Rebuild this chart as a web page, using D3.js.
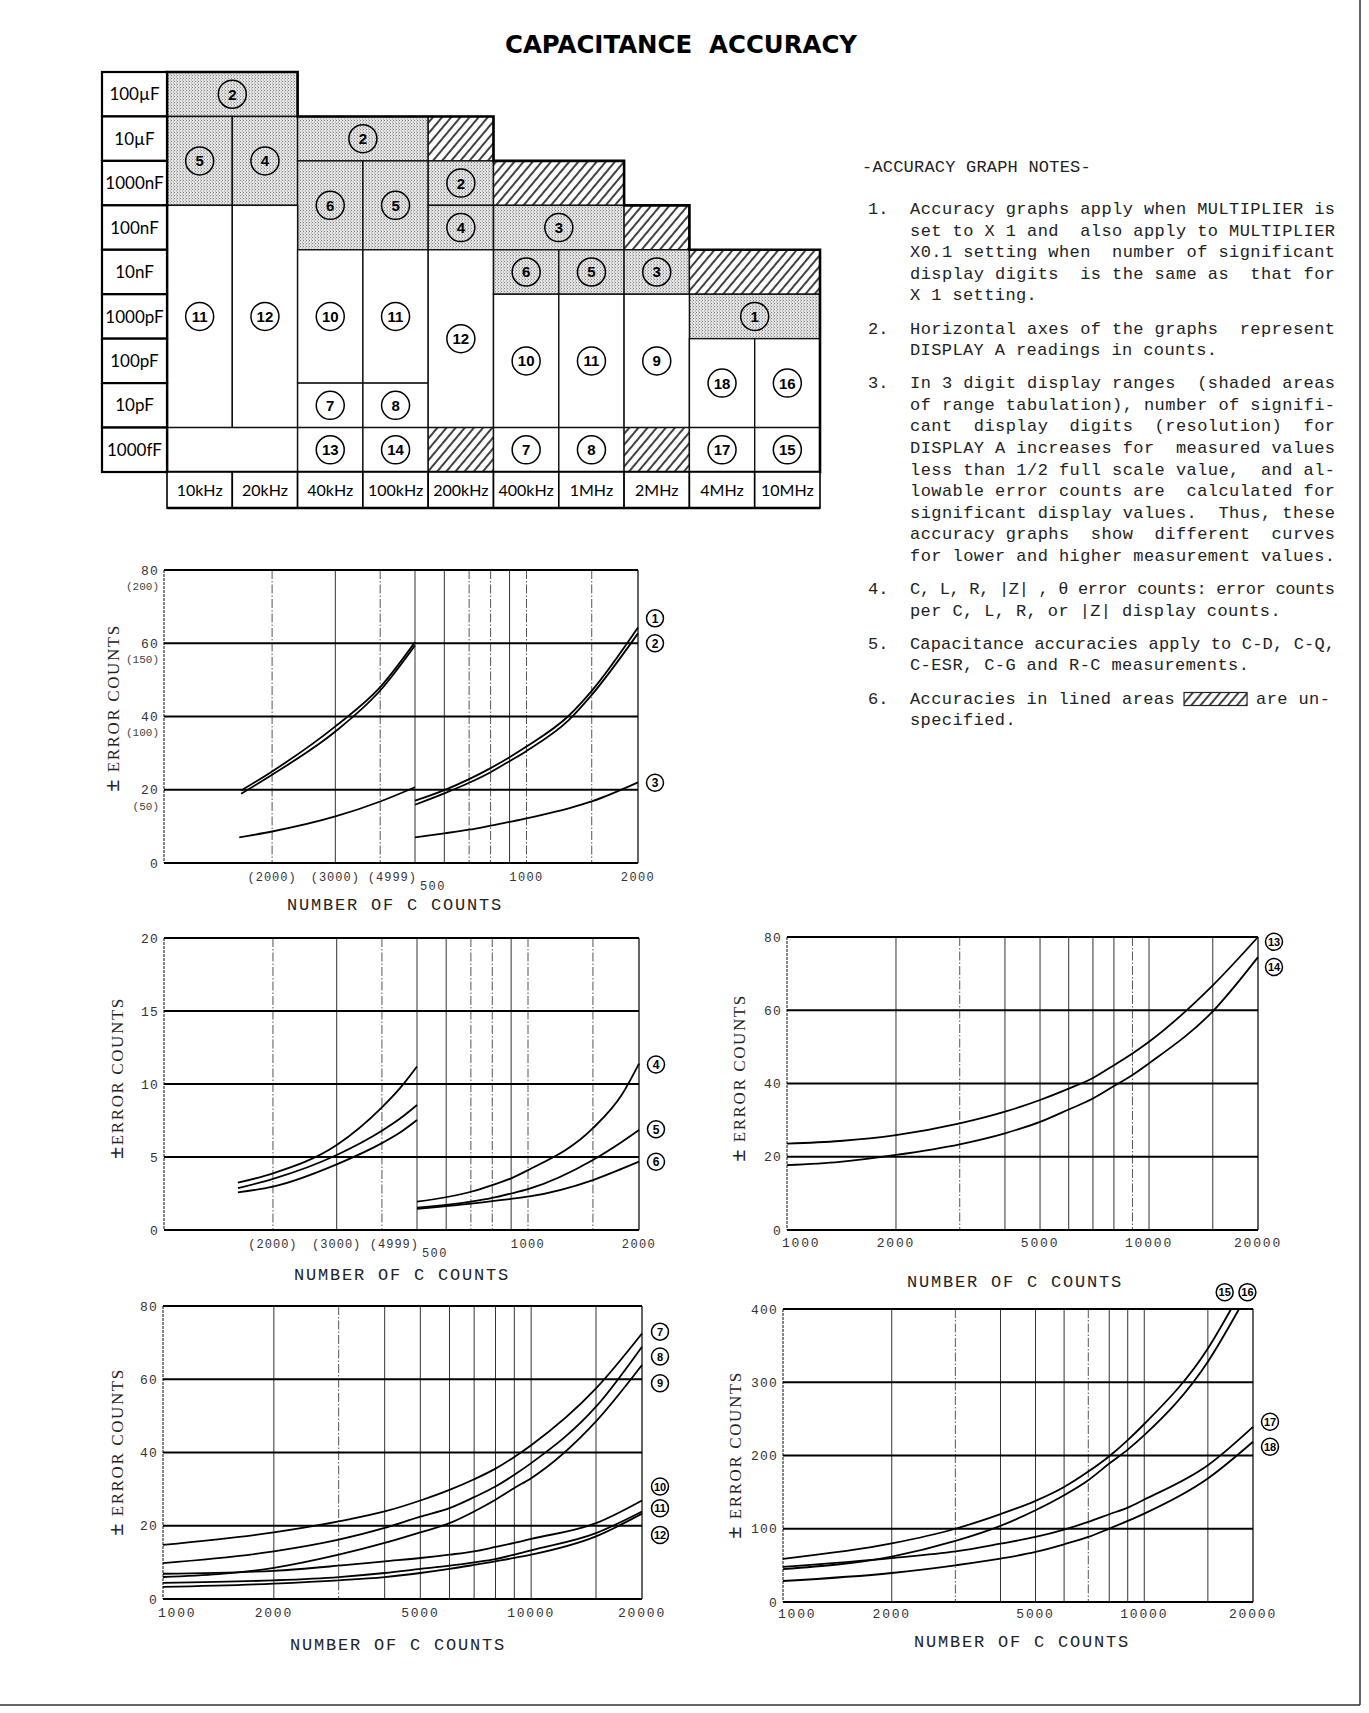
<!DOCTYPE html>
<html>
<head>
<meta charset="utf-8">
<title>Capacitance accuracy</title>
<script src="https://cdn.jsdelivr.net/npm/d3@7"></script>
<style>
  body { margin: 0; background: #fff; }
  svg { display: block; }
  text { white-space: pre; }
</style>
</head>
<body>
<script>
// ---------- range tabulation ----------
const freqs = ["10kHz", "20kHz", "40kHz", "100kHz", "200kHz", "400kHz", "1MHz", "2MHz", "4MHz", "10MHz"];
const ranges = ["100µF", "10µF", "1000nF", "100nF", "10nF", "1000pF", "100pF", "10pF", "1000fF"];
// [first freq, last freq, first range, last range, graph number, s = 3 digit (shaded), h = unspecified (lined), w = plain]
const cells = [
  [0, 1, 0, 0, "2", "s"], [0, 0, 1, 2, "5", "s"], [1, 1, 1, 2, "4", "s"],
  [2, 3, 1, 1, "2", "s"], [4, 4, 1, 1, "", "h"], [2, 2, 2, 3, "6", "s"],
  [3, 3, 2, 3, "5", "s"], [4, 4, 2, 2, "2", "s"], [4, 4, 3, 3, "4", "s"],
  [5, 6, 2, 2, "", "h"], [5, 6, 3, 3, "3", "s"], [7, 7, 3, 3, "", "h"],
  [0, 0, 3, 7, "11", "w"], [1, 1, 3, 7, "12", "w"], [0, 1, 8, 8, "", "w"],
  [2, 2, 4, 6, "10", "w"], [3, 3, 4, 6, "11", "w"], [2, 2, 7, 7, "7", "w"],
  [3, 3, 7, 7, "8", "w"], [2, 2, 8, 8, "13", "w"], [3, 3, 8, 8, "14", "w"],
  [4, 4, 4, 7, "12", "w"], [4, 4, 8, 8, "", "h"], [5, 5, 4, 4, "6", "s"],
  [6, 6, 4, 4, "5", "s"], [7, 7, 4, 4, "3", "s"], [8, 9, 4, 4, "", "h"],
  [8, 9, 5, 5, "1", "s"], [5, 5, 5, 7, "10", "w"], [6, 6, 5, 7, "11", "w"],
  [7, 7, 5, 7, "9", "w"], [8, 8, 6, 7, "18", "w"], [9, 9, 6, 7, "16", "w"],
  [5, 5, 8, 8, "7", "w"], [6, 6, 8, 8, "8", "w"], [7, 7, 8, 8, "", "h"],
  [8, 8, 8, 8, "17", "w"], [9, 9, 8, 8, "15", "w"]
];

// ---------- notes ----------
const noteHeader = "-ACCURACY GRAPH NOTES-";
const noteNums = ["1.", "2.", "3.", "4.", "5.", "6."];
const noteLines = [
  ["Accuracy graphs apply when MULTIPLIER is",
   "set to X 1 and  also apply to MULTIPLIER",
   "X0.1 setting when  number of significant",
   "display digits  is the same as  that for",
   "X 1 setting."],
  ["Horizontal axes of the graphs  represent",
   "DISPLAY A readings in counts."],
  ["In 3 digit display ranges  (shaded areas",
   "of range tabulation), number of signifi-",
   "cant  display  digits  (resolution)  for",
   "DISPLAY A increases for  measured values",
   "less than 1/2 full scale value,  and al-",
   "lowable error counts are  calculated for",
   "significant display values.  Thus, these",
   "accuracy graphs  show  different  curves",
   "for lower and higher measurement values."],
  ["C, L, R, |Z| , θ error counts: error counts",
   "per C, L, R, or |Z| display counts."],
  ["Capacitance accuracies apply to C-D, C-Q,",
   "C-ESR, C-G and R-C measurements."],
  ["Accuracies in lined areas",
   "specified."]
];
const noteTail = "are un-";

// ---------- graphs 1, 2, 3 (split axis) ----------
const g1Y = [0, 20, 40, 60, 80];
const g1YAlt = ["", "(50)", "(100)", "(150)", "(200)"];
const g1LeftTicks = [2000, 3000, 4999];
const g1LeftTickText = ["(2000)", "(3000)", "(4999)"];
const g1RightTicks = [500, 1000, 2000];
const g1RightTickText = ["500", "1000", "2000"];
const splitLeftGrid = [2000, 3000, 4000, 5000];
const splitLeftDash = [2000, 4000];
const splitRightGrid = [600, 700, 800, 900, 1000, 1500];
const splitRightDash = [700, 800, 1000, 1500];

const g1LeftCounts = [1640, 2000, 3000, 4000, 5000];
const graph1Left = [19.8, 25.0, 37.3, 48.0, 60.3];
const graph2Left = [18.9, 24.1, 35.9, 47.1, 59.4];
const graph3LeftCounts = [1620, 2000, 3000, 4000, 5000];
const graph3Left = [7.0, 8.6, 12.7, 16.8, 20.7];
const g1RightCounts = [500, 600, 700, 800, 900, 1000, 1300, 1500, 2000];
const graph1Right = [17.0, 19.9, 22.9, 25.9, 28.9, 31.8, 40.2, 47.0, 64.3];
const graph2Right = [15.9, 19.0, 21.9, 24.8, 27.8, 30.6, 39.0, 45.9, 62.7];
const graph3Right = [7.0, 8.1, 9.1, 10.2, 11.2, 12.2, 14.9, 16.8, 22.0];
const g1LabelNums = ["1", "2", "3"];
const g1LabelAt = [66.8, 60.0, 21.9];

// ---------- graphs 4, 5, 6 (split axis) ----------
const g4Y = [0, 5, 10, 15, 20];
const g4LeftCounts = [1600, 2000, 3000, 4000, 4500, 5000];
const graph4Left = [3.24, 3.88, 5.82, 8.4, 9.75, 11.2];
const graph5Left = [2.86, 3.5, 5.14, 6.8, 7.65, 8.56];
const graph6Left = [2.58, 2.97, 4.5, 5.95, 6.69, 7.53];
const g4RightCounts = [500, 700, 800, 900, 1000, 1500, 1800, 2000];
const graph4Right = [1.94, 2.62, 3.08, 3.54, 4.1, 6.97, 9.3, 11.4];
const graph5Right = [1.53, 1.94, 2.2, 2.5, 2.8, 4.8, 6.05, 6.85];
const graph6Right = [1.44, 1.8, 1.98, 2.13, 2.28, 3.42, 4.2, 4.68];
const g4LabelNums = ["4", "5", "6"];
const g4LabelAt = [11.34, 6.9, 4.67];

// ---------- 1000 .. 20000 count graphs ----------
const countTicks = [1000, 2000, 5000, 10000, 20000];
const countGrid = [2000, 3000, 4000, 5000, 6000, 7000, 8000, 9000, 10000, 15000];

const g13Counts = [1000, 1400, 2000, 3000, 4000, 5000, 6000, 7000, 8000, 9000, 10000, 15000, 20000];
const graph13 = [23.6, 24.3, 25.9, 29.1, 32.3, 35.5, 38.6, 41.5, 45.0, 48.2, 51.4, 66.8, 80.0];
const graph14 = [17.7, 18.6, 20.5, 23.4, 26.4, 29.5, 32.9, 35.9, 39.3, 42.3, 45.5, 59.7, 74.5];
const g13LabelNums = ["13", "14"];
const g13LabelAt = [78.7, 71.8];

const g7Counts = [1000, 2000, 3000, 4000, 5000, 6000, 7000, 8000, 9000, 10000, 15000, 20000];
const graph7 = [14.8, 18.2, 21.2, 23.9, 26.9, 29.8, 32.7, 35.6, 38.8, 42.0, 57.5, 72.5];
const graph8 = [9.8, 13.0, 16.2, 19.4, 22.5, 24.8, 27.8, 30.7, 33.9, 37.1, 52.5, 68.9];
const graph9 = [6.0, 8.5, 12.1, 15.3, 18.2, 20.7, 23.9, 27.1, 30.3, 33.0, 48.5, 63.9];
const graph10 = [6.9, 7.7, 9.1, 10.3, 11.2, 12.1, 13.0, 14.2, 15.3, 16.4, 20.7, 26.9];
const graph11 = [4.4, 5.1, 6.0, 7.1, 8.2, 9.1, 10.0, 10.9, 12.1, 13.3, 18.0, 23.9];
const graph12 = [3.3, 4.2, 5.1, 6.0, 7.1, 8.2, 9.3, 10.3, 11.2, 12.1, 17.1, 23.3];
const g7LabelNums = ["7", "8", "9", "10", "11", "12"];
const g7LabelAt = [73.0, 66.2, 58.9, 30.7, 24.8, 17.5];

const g15Counts = [1000, 2000, 3000, 4000, 5000, 6000, 7000, 8000, 9000, 10000, 15000, 17400];
const graph15 = [59, 80, 100, 120, 138, 157, 178, 199, 221, 243, 346, 400];
const g16Counts = [1000, 2000, 3000, 4000, 5000, 6000, 7000, 8000, 9000, 10000, 15000, 18300];
const graph16 = [45, 62, 83.4, 104, 125.3, 145.8, 166.3, 189, 208, 227.8, 328, 400];
const g17Counts = [1000, 2000, 3000, 4000, 5000, 6000, 7000, 8000, 9000, 10000, 15000, 20000];
const graph17 = [48, 60, 69, 79.7, 88.8, 98.9, 109.3, 119.8, 128.9, 139.9, 186.8, 239.2];
const graph18 = [28.7, 39.6, 50.1, 59.2, 68.3, 78.8, 88.8, 100.2, 110.7, 120.7, 168.6, 218.7];
const g15LabelNums = ["15", "16", "17", "18"];
const g15LabelCount = [16700, 19300, null, null];
const g15LabelAt = [423, 423, 246, 212];

// ---------- page ----------
const MONO = "'Liberation Mono', 'DejaVu Sans Mono', monospace";
const SERIF = "'Liberation Serif', 'DejaVu Serif', serif";
const GEO = "Lato, 'DejaVu Sans', sans-serif";
const NARROW = "'Liberation Sans Narrow', 'Liberation Sans', Arial, sans-serif";

const svg = d3.select("body").append("svg").attr("width", 1369).attr("height", 1713);
const defs = svg.append("defs");

const stip = defs.append("pattern").attr("id", "stipple")
  .attr("width", 3).attr("height", 3).attr("patternUnits", "userSpaceOnUse");
stip.append("rect").attr("width", 3).attr("height", 3).attr("fill", "#e4e4e4");
stip.append("rect").attr("x", 0).attr("y", 0).attr("width", 1).attr("height", 1).attr("fill", "#808080");
stip.append("rect").attr("x", 2).attr("y", 1.5).attr("width", 1).attr("height", 1).attr("fill", "#9a9a9a");

const hatch = defs.append("pattern").attr("id", "hatch")
  .attr("width", 7).attr("height", 7).attr("patternUnits", "userSpaceOnUse")
  .attr("patternTransform", "rotate(40)");
hatch.append("rect").attr("width", 7).attr("height", 7).attr("fill", "#fff");
hatch.append("line").attr("x1", 1).attr("x2", 1).attr("y1", 0).attr("y2", 7)
  .attr("stroke", "#111").attr("stroke-width", 1.6);

// page frame (right and bottom edges of the scanned sheet)
svg.append("line").attr("x1", 1360).attr("x2", 1360).attr("y1", 0).attr("y2", 1705).attr("stroke", "#333").attr("stroke-width", 1.5);
svg.append("line").attr("x1", 0).attr("x2", 1360).attr("y1", 1705).attr("y2", 1705).attr("stroke", "#333").attr("stroke-width", 1.5);

svg.append("text")
  .attr("x", 681).attr("y", 53)
  .attr("text-anchor", "middle")
  .attr("font-family", "'DejaVu Sans', sans-serif").attr("font-weight", "bold").attr("font-size", 24)
  .attr("textLength", 352).attr("lengthAdjust", "spacingAndGlyphs")
  .text("CAPACITANCE  ACCURACY");

function circled(g, x, y, txt, r, fs) {
  g.append("circle").attr("cx", x).attr("cy", y).attr("r", r)
    .attr("fill", "none").attr("stroke", "#000").attr("stroke-width", 1.5);
  g.append("text").attr("x", x).attr("y", y).attr("dy", "0.36em")
    .attr("text-anchor", "middle").attr("font-family", NARROW).attr("font-weight", "bold")
    .attr("font-size", fs).text(txt);
}

// ---------- table ----------
const colX = d3.scaleBand().domain(freqs).range([167, 820]);
const rowY = d3.scaleBand().domain(ranges).range([72, 472]);
const fills = { s: "url(#stipple)", h: "url(#hatch)", w: "#fff" };
const tbl = svg.append("g");

const cx0 = d => colX(freqs[d[0]]);
const cx1 = d => colX(freqs[d[1]]) + colX.bandwidth();
const cy0 = d => rowY(ranges[d[2]]);
const cy1 = d => rowY(ranges[d[3]]) + rowY.bandwidth();

tbl.selectAll("rect.cell").data(cells).join("rect").attr("class", "cell")
  .attr("x", cx0).attr("y", cy0)
  .attr("width", d => cx1(d) - cx0(d)).attr("height", d => cy1(d) - cy0(d))
  .attr("fill", d => fills[d[5]])
  .attr("stroke", "#111").attr("stroke-width", 1.4);

cells.filter(d => d[4]).forEach(d => {
  circled(tbl, (cx0(d) + cx1(d)) / 2, (cy0(d) + cy1(d)) / 2, d[4], 14, 15);
});

// outline of tabulated area (stepped top edge)
const topRow = freqs.map((f, i) => d3.min(cells.filter(c => c[0] <= i && i <= c[1]), c => c[2]));
const outline = d3.path();
const tBottom = rowY.range()[1];
outline.moveTo(colX(freqs[0]), tBottom);
freqs.forEach((f, i) => {
  const yy = rowY(ranges[topRow[i]]);
  outline.lineTo(colX(f), yy);
  outline.lineTo(colX(f) + colX.bandwidth(), yy);
});
outline.lineTo(colX(freqs[freqs.length - 1]) + colX.bandwidth(), tBottom);
outline.closePath();
tbl.append("path").attr("d", outline.toString()).attr("fill", "none")
  .attr("stroke", "#000").attr("stroke-width", 2.6);

// range labels
const labX0 = 102, labX1 = colX.range()[0];
tbl.selectAll("rect.rlab").data(ranges).join("rect").attr("class", "rlab")
  .attr("x", labX0).attr("y", d => rowY(d)).attr("width", labX1 - labX0).attr("height", rowY.bandwidth())
  .attr("fill", "#fff").attr("stroke", "#000").attr("stroke-width", 2.2);
tbl.selectAll("text.rlab").data(ranges).join("text").attr("class", "rlab")
  .attr("x", (labX0 + labX1) / 2).attr("y", d => rowY(d) + rowY.bandwidth() / 2).attr("dy", "0.36em")
  .attr("text-anchor", "middle").attr("font-family", GEO).attr("font-size", 17).text(d => d);

// frequency labels
const fY0 = tBottom, fY1 = 508;
tbl.selectAll("rect.flab").data(freqs).join("rect").attr("class", "flab")
  .attr("x", d => colX(d)).attr("y", fY0).attr("width", colX.bandwidth()).attr("height", fY1 - fY0)
  .attr("fill", "#fff").attr("stroke", "#000").attr("stroke-width", 1.6);
tbl.append("line").attr("x1", colX.range()[0]).attr("x2", colX.range()[1])
  .attr("y1", fY1).attr("y2", fY1).attr("stroke", "#000").attr("stroke-width", 2.4);
tbl.selectAll("text.flab").data(freqs).join("text").attr("class", "flab")
  .attr("x", d => colX(d) + colX.bandwidth() / 2).attr("y", (fY0 + fY1) / 2).attr("dy", "0.36em")
  .attr("text-anchor", "middle").attr("font-family", GEO).attr("font-size", 16).text(d => d);

// ---------- notes ----------
const notesG = svg.append("g").attr("font-family", MONO).attr("font-size", 17).attr("fill", "#222");
notesG.append("text").attr("x", 862).attr("y", 172).attr("letter-spacing", 0.2).text(noteHeader);
const lineGap = 21.6, paraGap = 11.5, textX = 910, rightX = 1335;
let ny = 214;
noteLines.forEach((lines, k) => {
  notesG.append("text").attr("x", 868).attr("y", ny).text(noteNums[k]);
  lines.forEach((ln, i) => {
    const t = notesG.append("text").attr("x", textX).attr("y", ny + i * lineGap).text(ln);
    if (ln.length >= 38) t.attr("textLength", rightX - textX).attr("lengthAdjust", "spacing");
    else t.attr("letter-spacing", 0.4);
    if (k === 5 && i === 0) {
      const end = textX + t.node().getComputedTextLength();
      notesG.append("rect").attr("x", end + 9).attr("y", ny - 11).attr("width", 63).attr("height", 13)
        .attr("fill", "url(#hatch)").attr("stroke", "#222").attr("stroke-width", 1.2);
      notesG.append("text").attr("x", end + 81).attr("y", ny).attr("letter-spacing", 0.4).text(noteTail);
    }
  });
  ny += lines.length * lineGap + paraGap;
});

// ---------- graph helpers ----------
function frame(o, yMax, yTicks, segs) {
  const g = svg.append("g");
  const y = d3.scaleLinear().domain([0, yMax]).range([o.B, o.T]);
  segs.forEach(([sx, grid, dash]) => {
    g.selectAll(null).data(grid).join("line")
      .attr("x1", d => sx(d)).attr("x2", d => sx(d))
      .attr("y1", o.T).attr("y2", o.B)
      .attr("stroke", d => dash.includes(d) ? "#555" : "#333")
      .attr("stroke-width", 1)
      .attr("stroke-dasharray", d => dash.includes(d) ? "9,2,1.5,2" : null);
  });
  g.append("line").attr("x1", o.L).attr("x2", o.L).attr("y1", o.T).attr("y2", o.B)
    .attr("stroke", "#444").attr("stroke-width", 1.3).attr("stroke-dasharray", "3,1");
  g.append("line").attr("x1", o.R).attr("x2", o.R).attr("y1", o.T).attr("y2", o.B)
    .attr("stroke", "#222").attr("stroke-width", 1.4);
  g.selectAll(null).data(yTicks).join("line")
    .attr("x1", o.L).attr("x2", o.R).attr("y1", d => y(d)).attr("y2", d => y(d))
    .attr("stroke", "#000").attr("stroke-width", 2.2);
  g.selectAll(null).data(yTicks).join("text")
    .attr("x", o.L - 5).attr("y", d => y(d)).attr("dy", "0.35em")
    .attr("text-anchor", "end").attr("font-family", MONO).attr("font-size", 13)
    .attr("letter-spacing", 1.2).attr("fill", "#333").text(d => d);
  return { g, y };
}

function curve(g, sx, y, xs, ys) {
  g.append("path").datum(d3.zip(xs, ys))
    .attr("d", d3.line().x(d => sx(d[0])).y(d => y(d[1])).curve(d3.curveMonotoneX))
    .attr("fill", "none").attr("stroke", "#000").attr("stroke-width", 1.8);
}

function titles(g, o, xt, yt, yText) {
  g.append("text").attr("x", xt[0]).attr("y", xt[1]).attr("text-anchor", "middle")
    .attr("font-family", MONO).attr("font-size", 17).attr("letter-spacing", 1.8).attr("fill", "#222")
    .text("NUMBER OF C COUNTS");
  const t = g.append("text").attr("transform", `translate(${yt[0]},${yt[1]}) rotate(-90)`)
    .attr("dy", "0.35em")
    .attr("text-anchor", "middle").attr("font-family", SERIF).attr("font-size", 17)
    .attr("letter-spacing", 1.6).attr("fill", "#222");
  t.append("tspan").attr("font-size", 22).attr("font-weight", "bold").text("±");
  t.append("tspan").text(yText);
}

function countLabels(g, o, sx, yBase) {
  g.selectAll(null).data(countTicks).join("text")
    .attr("x", (d, i) => i === 0 ? o.L - 5 : sx(d)).attr("y", yBase)
    .attr("text-anchor", (d, i) => i === 0 ? "start" : "middle")
    .attr("font-family", MONO).attr("font-size", 13).attr("letter-spacing", 1.8).attr("fill", "#333")
    .text(d => d);
}

function splitLabels(g, o, xl, xr, yBase) {
  g.selectAll(null).data(g1LeftTicks).join("text")
    .attr("x", (d, i) => i === g1LeftTicks.length - 1 ? xl(5000) + 2 : xl(d)).attr("y", yBase)
    .attr("text-anchor", (d, i) => i === g1LeftTicks.length - 1 ? "end" : "middle")
    .attr("font-family", MONO).attr("font-size", 12).attr("letter-spacing", 1).attr("fill", "#333")
    .text((d, i) => g1LeftTickText[i]);
  g.selectAll(null).data(g1RightTicks).join("text")
    .attr("x", (d, i) => i === 0 ? xr(d) + 5 : xr(d)).attr("y", (d, i) => i === 0 ? yBase + 9 : yBase)
    .attr("text-anchor", (d, i) => i === 0 ? "start" : "middle")
    .attr("font-family", MONO).attr("font-size", 12).attr("letter-spacing", 1.4).attr("fill", "#333")
    .text((d, i) => g1RightTickText[i]);
}

// ---------- graph 1-3 ----------
const p1 = { L: 164, R: 638, T: 570, B: 863, brk: 415 };
const x1l = d3.scaleLog().domain([1000, 5000]).range([p1.L, p1.brk]);
const x1r = d3.scaleLog().domain([500, 2000]).range([p1.brk, p1.R]);
const k1 = frame(p1, 80, g1Y, [[x1l, splitLeftGrid, splitLeftDash], [x1r, splitRightGrid, splitRightDash]]);
k1.g.selectAll(null).data(g1Y).join("text")
  .attr("x", p1.L - 5).attr("y", d => k1.y(d) + 16).attr("dy", "0.35em")
  .attr("text-anchor", "end").attr("font-family", MONO).attr("font-size", 11)
  .attr("fill", "#444").text((d, i) => g1YAlt[i]);
curve(k1.g, x1l, k1.y, g1LeftCounts, graph1Left);
curve(k1.g, x1l, k1.y, g1LeftCounts, graph2Left);
curve(k1.g, x1l, k1.y, graph3LeftCounts, graph3Left);
curve(k1.g, x1r, k1.y, g1RightCounts, graph1Right);
curve(k1.g, x1r, k1.y, g1RightCounts, graph2Right);
curve(k1.g, x1r, k1.y, g1RightCounts, graph3Right);
g1LabelNums.forEach((n, i) => circled(k1.g, p1.R + 17, k1.y(g1LabelAt[i]), n, 8.5, 12));
splitLabels(k1.g, p1, x1l, x1r, 881);
titles(k1.g, p1, [395, 910], [113, 708], " ERROR COUNTS");

// ---------- graph 4-6 ----------
const p2 = { L: 164, R: 639, T: 938, B: 1230, brk: 417 };
const x2l = d3.scaleLog().domain([1000, 5000]).range([p2.L, p2.brk]);
const x2r = d3.scaleLog().domain([500, 2000]).range([p2.brk, p2.R]);
const k2 = frame(p2, 20, g4Y, [[x2l, splitLeftGrid, splitLeftDash], [x2r, splitRightGrid, splitRightDash]]);
curve(k2.g, x2l, k2.y, g4LeftCounts, graph4Left);
curve(k2.g, x2l, k2.y, g4LeftCounts, graph5Left);
curve(k2.g, x2l, k2.y, g4LeftCounts, graph6Left);
curve(k2.g, x2r, k2.y, g4RightCounts, graph4Right);
curve(k2.g, x2r, k2.y, g4RightCounts, graph5Right);
curve(k2.g, x2r, k2.y, g4RightCounts, graph6Right);
g4LabelNums.forEach((n, i) => circled(k2.g, p2.R + 17, k2.y(g4LabelAt[i]), n, 8.5, 12));
splitLabels(k2.g, p2, x2l, x2r, 1248);
titles(k2.g, p2, [402, 1280], [117, 1078], "ERROR COUNTS");

// ---------- graph 13-14 ----------
const p3 = { L: 787, R: 1258, T: 937, B: 1230 };
const x3 = d3.scaleLog().domain([1000, 20000]).range([p3.L, p3.R]);
const k3 = frame(p3, 80, g1Y, [[x3, countGrid, [3000, 9000]]]);
curve(k3.g, x3, k3.y, g13Counts, graph13);
curve(k3.g, x3, k3.y, g13Counts, graph14);
g13LabelNums.forEach((n, i) => circled(k3.g, p3.R + 16, k3.y(g13LabelAt[i]), n, 8.5, 11));
countLabels(k3.g, p3, x3, 1247);
titles(k3.g, p3, [1015, 1287], [739, 1078], " ERROR COUNTS");

// ---------- graph 7-12 ----------
const p4 = { L: 163, R: 642, T: 1306, B: 1599 };
const x4 = d3.scaleLog().domain([1000, 20000]).range([p4.L, p4.R]);
const k4 = frame(p4, 80, g1Y, [[x4, countGrid, [3000]]]);
[graph7, graph8, graph9, graph10, graph11, graph12].forEach(s => curve(k4.g, x4, k4.y, g7Counts, s));
g7LabelNums.forEach((n, i) => circled(k4.g, p4.R + 18, k4.y(g7LabelAt[i]), n, 8.5, 11));
countLabels(k4.g, p4, x4, 1617);
titles(k4.g, p4, [398, 1650], [117, 1452], " ERROR COUNTS");

// ---------- graph 15-18 ----------
const p5 = { L: 783, R: 1253, T: 1309, B: 1602 };
const x5 = d3.scaleLog().domain([1000, 20000]).range([p5.L, p5.R]);
const k5 = frame(p5, 400, [0, 100, 200, 300, 400], [[x5, countGrid, [3000, 7000]]]);
curve(k5.g, x5, k5.y, g15Counts, graph15);
curve(k5.g, x5, k5.y, g16Counts, graph16);
curve(k5.g, x5, k5.y, g17Counts, graph17);
curve(k5.g, x5, k5.y, g17Counts, graph18);
g15LabelNums.forEach((n, i) => {
  const xx = g15LabelCount[i] ? x5(g15LabelCount[i]) : p5.R + 17;
  circled(k5.g, xx, k5.y(g15LabelAt[i]), n, 8.5, 11);
});
countLabels(k5.g, p5, x5, 1618);
titles(k5.g, p5, [1022, 1647], [735, 1455], " ERROR COUNTS");
</script>
</body>
</html>
